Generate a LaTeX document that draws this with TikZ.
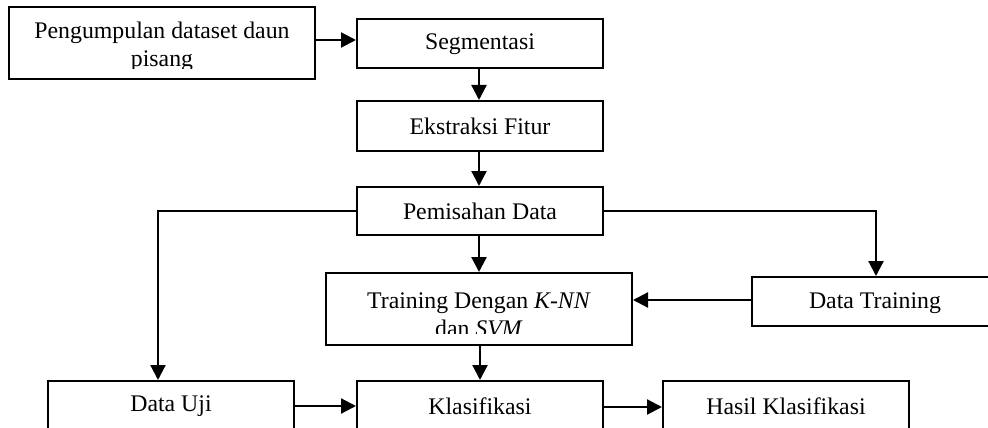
\documentclass[tikz,border=0pt]{standalone}
\usepackage{fontspec}
\setmainfont{Liberation Serif}
\usetikzlibrary{arrows.meta}
\tikzset{
  box/.style={draw, line width=2pt, rectangle, inner sep=0pt, anchor=center},
  lbl/.style={inner sep=0pt, align=center, font=\fontsize{23.8}{28.5}\selectfont},
  arr/.style={-{Triangle[length=15pt,width=15pt]}, line width=2.2pt},
}
\begin{document}
\begin{tikzpicture}[x=1pt,y=-1pt]
\useasboundingbox (0,0) rectangle (988,428);
\clip (0,0) rectangle (988,428);
% boxes
\node[box, minimum width=306pt, minimum height=72pt] (pk) at (162,43) {};
\node[box, minimum width=246pt, minimum height=49pt, lbl, yshift=-1.5pt] (sg) at (480,42.5) {Segmentasi};
\node[box, minimum width=246pt, minimum height=50pt, lbl] (ef) at (480,126) {Ekstraksi Fitur};
\node[box, minimum width=246pt, minimum height=48pt, lbl] (pd) at (480,211) {Pemisahan Data};
\node[box, minimum width=306pt, minimum height=72pt] (tr) at (479,309) {};
\node[box, minimum width=246pt, minimum height=49pt] (dt) at (875,301.5) {};
\node[lbl] (dtt) at (875,303) {Data Training};
\node[box, minimum width=246pt, minimum height=60pt] (du) at (171,411) {};
\node[box, minimum width=246pt, minimum height=60pt] (kl) at (480,411) {};
\node[box, minimum width=246pt, minimum height=60pt] (hk) at (786,411) {};
\node[lbl] (dut) at (171,406) {Data Uji};
\node[lbl] (klt) at (480,406) {Klasifikasi};
\node[lbl] (hkt) at (786,406) {Hasil Klasifikasi};
% clipped texts
\begin{scope}
\clip (10,8) rectangle (314,69);
\node[lbl] (pkt) at (162,47) {Pengumpulan dataset daun\\pisang};
\end{scope}
\begin{scope}
\clip (327,274) rectangle (631,333);
\node[lbl] (trt) at (479,315) {Training Dengan \textit{K-NN}\\dan \textit{SVM}};
\end{scope}
% connectors
\coordinate (pkr) at (pk.east |- 0,40);
\draw[arr] (pkr) -- (sg.west |- pkr);
\draw[arr] (sg.south -| 479,0) -- (ef.north -| 479,0);
\draw[arr] (ef.south -| 479,0) -- (pd.north -| 479,0);
\draw[arr] (pd.south -| 479,0) -- (tr.north -| 479,0);
\coordinate (cl) at (158,211);
\draw[arr] (pd.west) -- (cl) -- (du.north -| cl);
\coordinate (cr) at (876,211);
\draw[arr] (pd.east) -- (cr) -- (dt.north -| cr);
\draw[arr] (dt.west |- 0,300) -- (tr.east |- 0,300);
\draw[arr] (tr.south -| 480,0) -- (kl.north -| 480,0);
\draw[arr] (du.east |- 0,406) -- (kl.west |- 0,406);
\draw[arr] (kl.east |- 0,407) -- (hk.west |- 0,407);
\end{tikzpicture}
\end{document}
